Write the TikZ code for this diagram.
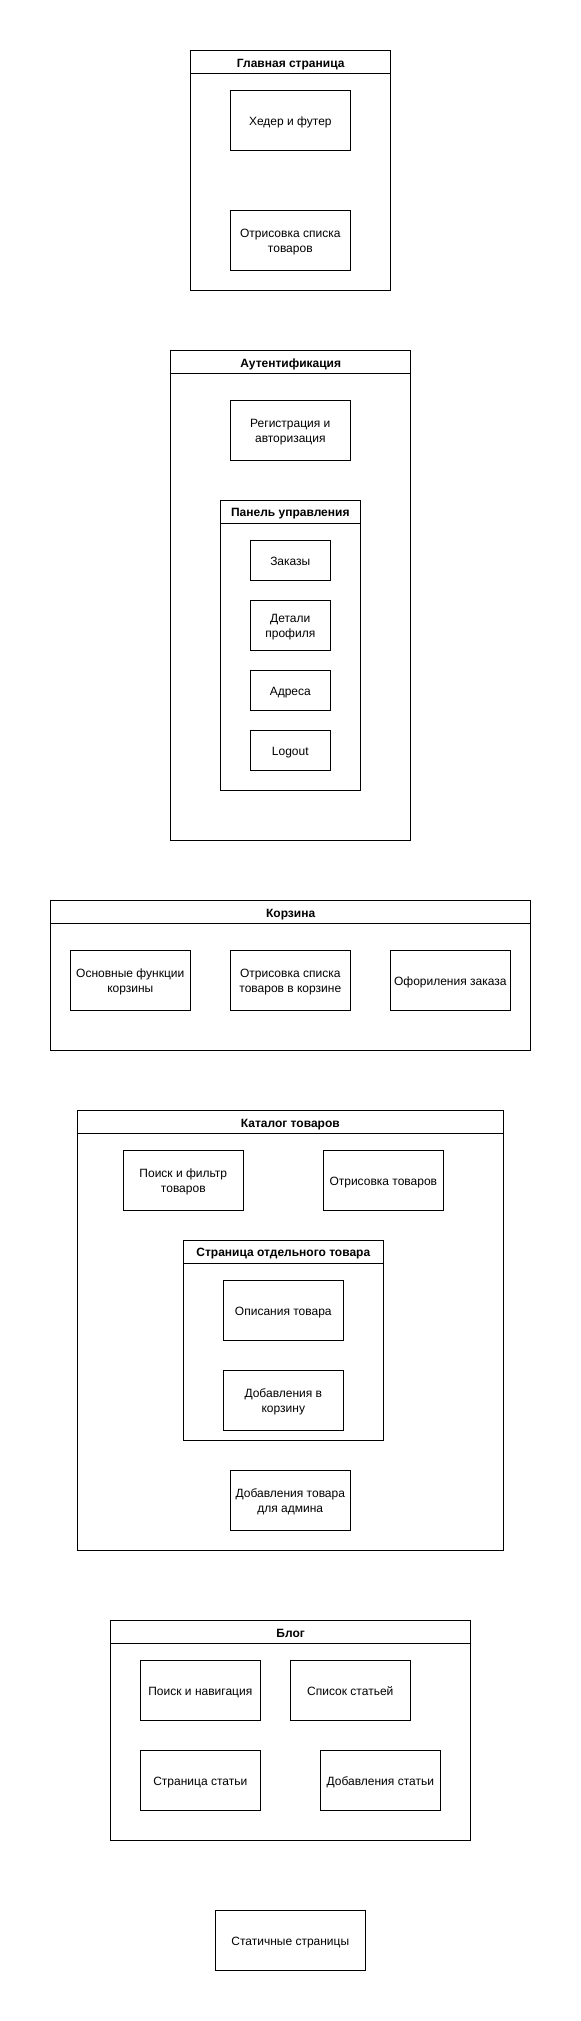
\documentclass[tikz,border=0pt]{standalone}
\usepackage{fontspec}
\setmainfont{Liberation Sans}
\newcommand\myHs{\rule{0pt}{9.7pt}}
\newcommand\myDs{\rule[-2.2pt]{0pt}{0pt}}
\begin{document}
\begin{tikzpicture}[x=0.75pt,y=-0.75pt,
  every node/.style={inner sep=0pt,outer sep=0pt},
  base/.style={draw=black,line width=0.75pt,rectangle,align=center,
    font=\fontsize{9pt}{11.25pt}\selectfont,
    execute at begin node=\myHs, execute at end node=\myDs},
  box/.style 2 args={base,minimum width=#1*0.75pt,minimum height=#2*0.75pt},
  cont/.style 2 args={draw=black,line width=0.75pt,rectangle,minimum width=#1*0.75pt,minimum height=#2*0.75pt},
  ttl/.style={base,font=\bfseries\fontsize{9pt}{11.25pt}\selectfont,minimum height=23*0.75pt,anchor=north}]
\useasboundingbox (0,0) rectangle (581,2021);
\fill[white] (0,0) rectangle (581,2021);

% Главная страница
\node[cont={200}{240}] (main) at (290.7,170.5) {};
\node[ttl,minimum width=200*0.75pt] (mainT) at (main.north) {Главная страница};
\node[box={120}{60}] (hf) at (290.3,120.3) {Хедер и футер};
\node[box={120}{60}] (list) at (290.3,240.3) {\myHs Отрисовка списка\\товаров\myDs};

% Аутентификация
\node[cont={240}{490}] (auth) at (290.7,595.5) {};
\node[ttl,minimum width=240*0.75pt] (authT) at (auth.north) {Аутентификация};
\node[box={120}{60}] (reg) at (290.3,430.3) {\myHs Регистрация и\\авторизация\myDs};
\node[cont={140}{290}] (panel) at (290.3,645.3) {};
\node[ttl,minimum width=140*0.75pt] (panelT) at (panel.north) {Панель управления};
\node[box={80}{40}] (orders) at (290.3,560.3) {Заказы};
\node[box={80}{50}] (prof) at (290.3,625.3) {\myHs Детали\\профиля\myDs};
\node[box={80}{40}] (addr) at (290.3,690.3) {Адреса};
\node[box={80}{40}] (logout) at (290.3,750.3) {Logout};

% Корзина
\node[cont={480}{150}] (cart) at (290.7,975.7) {};
\node[ttl,minimum width=480*0.75pt] (cartT) at (cart.north) {Корзина};
\node[box={120}{60}] (cf) at (130.3,980.3) {\myHs Основные функции\\корзины\myDs};
\node[box={120}{60}] (cl) at (290.3,980.3) {\myHs Отрисовка списка\\товаров в корзине\myDs};
\node[box={120}{60}] (co) at (450.3,980.3) {Офориления заказа};

% Каталог товаров
\node[cont={426}{440}] (cat) at (290.3,1330.7) {};
\node[ttl,minimum width=426*0.75pt] (catT) at (cat.north) {Каталог товаров};
\node[box={120}{60}] (search) at (183.3,1180.3) {\myHs Поиск и фильтр\\товаров\myDs};
\node[box={120}{60}] (render) at (383.3,1180.3) {Отрисовка товаров};
\node[cont={200}{200}] (prod) at (283.3,1340.3) {};
\node[ttl,minimum width=200*0.75pt] (prodT) at (prod.north) {Страница отдельного товара};
\node[box={120}{60}] (desc) at (283.3,1310.3) {Описания товара};
\node[box={120}{60}] (tocart) at (283.3,1400.3) {\myHs Добавления в\\корзину\myDs};
\node[box={120}{60}] (admin) at (290.3,1500.3) {\myHs Добавления товара\\для админа\myDs};

% Блог
\node[cont={360}{220}] (blog) at (290.7,1730.7) {};
\node[ttl,minimum width=360*0.75pt] (blogT) at (blog.north) {Блог};
\node[box={120}{60}] (nav) at (200.3,1690.3) {Поиск и навигация};
\node[box={120}{60}] (arts) at (350.3,1690.3) {Список статьей};
\node[box={120}{60}] (art) at (200.3,1780.3) {Страница статьи};
\node[box={120}{60}] (addart) at (380.3,1780.3) {Добавления статьи};

% Статичные страницы
\node[box={150}{60}] (static) at (290.3,1940.3) {Статичные страницы};
\end{tikzpicture}
\end{document}
